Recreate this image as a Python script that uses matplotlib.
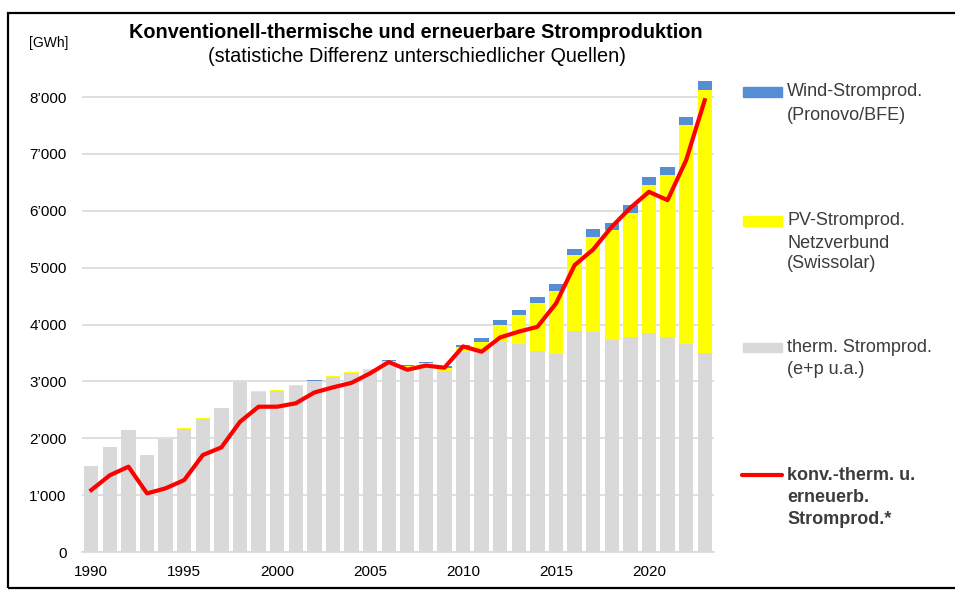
import matplotlib
matplotlib.use("Agg")
import matplotlib.pyplot as plt
from matplotlib.patches import Rectangle
from matplotlib.lines import Line2D
from matplotlib.ticker import FuncFormatter, MultipleLocator
import numpy as np

plt.rcParams['font.family'] = ['Liberation Sans', 'DejaVu Sans']

years = list(range(1990, 2024))
therm = [1515, 1840, 2150, 1710, 1990, 2170, 2345, 2525, 2985, 2820,
         2830, 2915, 3000, 3075, 3145, 3195, 3340, 3240, 3285, 3190,
         3525, 3530, 3695, 3655, 3530, 3480, 3885, 3860, 3735, 3775,
         3850, 3780, 3655, 3505]
pv = [1, 1, 2, 3, 4, 5, 6, 7, 8, 9,
      11, 13, 15, 17, 19, 20, 22, 25, 30, 50,
      75, 165, 295, 505, 850, 1115, 1335, 1680, 1925, 2180,
      2595, 2845, 3850, 4620]
wind = [0, 0, 0, 1, 1, 1, 2, 3, 3, 3,
        3, 3, 4, 5, 6, 8, 15, 16, 19, 23,
        37, 70, 88, 90, 101, 110, 108, 133, 122, 146,
        145, 146, 150, 165]
total_line = [1090, 1350, 1500, 1030, 1120, 1265, 1705, 1840, 2290, 2555,
              2555, 2615, 2805, 2895, 2975, 3142, 3340, 3205, 3278, 3241,
              3615, 3522, 3774, 3875, 3960, 4370, 5044, 5320, 5718, 6052,
              6333, 6187, 6889, 7944]
xtick_years = [1990, 1995, 2000, 2005, 2010, 2015, 2020]

title = "Konventionell-thermische und erneuerbare Stromproduktion"
subtitle = "(statistiche Differenz unterschiedlicher Quellen)"
unit = "[GWh]"
leg_wind = ["Wind-Stromprod.", "(Pronovo/BFE)"]
leg_pv = ["PV-Stromprod.", "Netzverbund", "(Swissolar)"]
leg_therm = ["therm. Stromprod.", "(e+p u.a.)"]
leg_line = ["konv.-therm. u.", "erneuerb.", "Stromprod.*"]

W, H = 955, 592
fig = plt.figure(figsize=(W / 100, H / 100), dpi=100)

def fx(px):
    return px / W

def fy(py):
    return 1 - py / H

ax = fig.add_axes([fx(82), fy(552), fx(714) - fx(82), (552 - 68.6) / H])

GRAY = '#d9d9d9'
YELLOW = '#ffff00'
BLUE = '#558ed5'
RED = '#ff0000'

x = np.array(years)
therm_a = np.array(therm)
pv_a = np.array(pv)
wind_a = np.array(wind)
bw = 0.77
ax.bar(x, therm_a, width=bw, color=GRAY, zorder=2)
ax.bar(x, pv_a, width=bw, bottom=therm_a, color=YELLOW, zorder=2)
ax.bar(x, wind_a, width=bw, bottom=therm_a + pv_a, color=BLUE, zorder=2)
ax.plot(x, total_line, color=RED, lw=3.0, zorder=3, solid_joinstyle='round')

ax.set_xlim(1989.5, 2023.5)
ax.set_ylim(0, 8500)
ax.yaxis.set_major_locator(MultipleLocator(1000))
ax.set_yticks(range(0, 8001, 1000))
ax.yaxis.set_major_formatter(FuncFormatter(
    lambda v, p: '0' if v == 0 else f"{int(v):,}".replace(',', '\u2019')))
ax.set_xticks(xtick_years)
ax.tick_params(axis='both', length=0, labelsize=11, colors='#000000')
ax.tick_params(axis='y', pad=11)
ax.tick_params(axis='x', pad=9)
ax.grid(axis='y', color=GRAY, lw=1.2, zorder=0)
ax.set_axisbelow(True)
for s in ['top', 'right', 'left']:
    ax.spines[s].set_visible(False)
ax.spines['bottom'].set_color(GRAY)
ax.spines['bottom'].set_linewidth(1.2)

# titles
fig.text(fx(416), fy(32), title, ha='center', va='center',
         fontsize=14.3, fontweight='bold', color='#000000')
fig.text(fx(417), fy(57), subtitle, ha='center', va='center',
         fontsize=14.3, color='#000000')
fig.text(fx(68), fy(43), unit, ha='right', va='center',
         fontsize=10, color='#000000')

# legend
TXT = '#3c3c3c'
def leg_text(lines, ys, bold=False):
    for s, yy in zip(lines, ys):
        fig.text(fx(787), fy(yy), s, ha='left', va='center', fontsize=13,
                 color=TXT, fontweight='bold' if bold else 'normal')

def leg_patch(color, yy):
    fig.patches.append(Rectangle((fx(743), fy(yy + 4.5)), fx(782) - fx(743), 9 / H,
                                 transform=fig.transFigure, color=color))

leg_patch(BLUE, 92)
leg_text(leg_wind, [92, 115])
leg_patch(YELLOW, 221)
leg_text(leg_pv, [221, 243, 264])
leg_patch(GRAY, 347)
leg_text(leg_therm, [347, 370])
fig.lines.append(Line2D([fx(742), fx(782)], [fy(475), fy(475)], color=RED, lw=3.0,
                        transform=fig.transFigure, solid_capstyle='round'))
leg_text(leg_line, [475, 497, 519], bold=True)

# outer frame
fig.patches.append(Rectangle((fx(8), fy(588)), fx(970) - fx(8), (588 - 13) / H,
                             transform=fig.transFigure, fill=False,
                             edgecolor='#000000', lw=1.6))

fig.savefig('out.png', dpi=100)
